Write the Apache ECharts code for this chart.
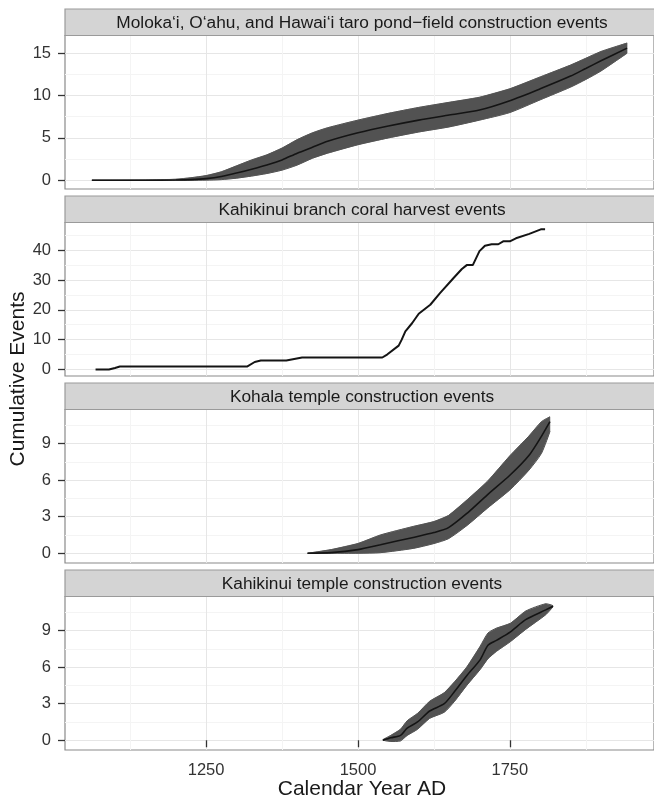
<!DOCTYPE html>
<html><head><meta charset="utf-8">
<script src="https://cdn.jsdelivr.net/npm/echarts@6/dist/echarts.min.js"></script>
<style>html,body{margin:0;padding:0;background:#fff}#c{width:654px;height:801px}</style>
</head><body><div id="c"></div>
<script>
// ---- data ----
const panelTitles = [
  'Moloka\u2018i, O\u2018ahu, and Hawai\u2018i taro pond\u2212field construction events',
  'Kahikinui branch coral harvest events',
  'Kohala temple construction events',
  'Kahikinui temple construction events'
];
const taroYears = [1062,1100,1150,1200,1225,1250,1275,1300,1325,1350,1375,1400,1425,1450,1500,1550,1600,1650,1700,1750,1800,1850,1875,1900,1943];
const taroMean  = [0,0,0,0.03,0.08,0.2,0.45,0.85,1.3,1.8,2.4,3.2,3.9,4.6,5.6,6.4,7.1,7.7,8.3,9.4,10.8,12.3,13.2,14.1,15.6];
const taroLower = [0,0,0,0,0,0.02,0.08,0.25,0.5,0.8,1.2,1.8,2.6,3.2,4.2,5.0,5.7,6.3,7.1,8.0,9.5,11.0,11.9,12.9,15.0];
const taroUpper = [0,0,0.02,0.12,0.3,0.55,1.0,1.7,2.4,3.0,3.8,4.8,5.6,6.2,7.1,7.9,8.6,9.2,9.8,10.8,12.2,13.6,14.4,15.2,16.2];

const coralYears = [1068,1090,1100,1108,1318,1330,1340,1382,1395,1408,1540,1548,1567,1572,1578,1589,1600,1619,1635,1657,1671,1679,1689,1700,1709,1720,1731,1739,1750,1760,1782,1801,1808];
const coralCount = [0,0,0.5,1,1,2.5,3,3,3.5,4,4,5,8,10,12.8,15.5,18.7,21.7,25.6,30.6,33.7,35,35,39.7,41.5,42,42,43,43,44,45.5,47,47];

const kohalaYears = [1417,1456,1500,1537,1591,1625,1649,1680,1713,1750,1781,1802,1816];
const kohalaMean  = [0,0.05,0.3,0.7,1.3,1.7,2.1,3.3,4.8,6.4,8.0,9.6,10.8];
const kohalaLower = [0,0,0,0.05,0.4,0.8,1.2,2.3,3.7,5.2,6.8,8.2,10.0];
const kohalaUpper = [0,0.3,0.8,1.5,2.2,2.6,3.1,4.4,5.9,8.0,9.6,10.8,11.2];

const kahiYears = [1541,1554,1570,1581,1598,1618,1642,1659,1679,1701,1714,1728,1751,1776,1809,1821];
const kahiMean  = [0,0.2,0.4,1.0,1.5,2.4,3.0,4.0,5.3,6.6,7.8,8.2,8.9,9.9,10.7,11.0];
const kahiLower = [0,-0.1,-0.05,0.4,0.9,1.8,2.3,3.2,4.5,5.8,6.7,7.3,8.1,9.1,10.3,10.95];
const kahiUpper = [0.05,0.4,0.9,1.6,2.2,3.2,3.9,4.8,6.0,7.7,8.8,9.2,9.6,10.6,11.2,11.05];

const xTicks = [1250,1500,1750];
const xMinor = [1125,1375,1625,1875];
const yTicks = [[0,5,10,15],[0,10,20,30,40],[0,3,6,9],[0,3,6,9]];
const yMinor = [[2.5,7.5,12.5],[5,15,25,35,45],[1.5,4.5,7.5,10.5],[1.5,4.5,7.5,10.5]];
const xTitle = 'Calendar Year AD';
const yTitle = 'Cumulative Events';

// ---- layout ----
const X_MIN = 1017.7, X_MAX = 1987.3;
const yRange = [[-1.03,17.09],[-2.2,49.3],[-0.8,11.8],[-0.8,11.8]];
const LEFT = 65, WIDTH = 594, TOP0 = 35.5, STEP = 187, H = 153.5, STRIP = 26.5;
const FONT = '"Liberation Sans", Arial, Helvetica, sans-serif';
const SMOOTH = 0.25;

const grids = [], xAxes = [], yAxes = [], series = [], graphics = [];
for (let i = 0; i < 4; i++) {
  const top = TOP0 + STEP * i;
  grids.push({left: LEFT, top: top, width: WIDTH, height: H, show: true,
    backgroundColor: '#fff', borderColor: '#8a8a8a', borderWidth: 1.2});
  const last = i === 3;
  xAxes.push({type: 'value', gridIndex: i, position: 'bottom', min: X_MIN, max: X_MAX,
    axisLine: {show: false},
    axisTick: {show: last, customValues: xTicks, length: 7, lineStyle: {color: '#333', width: 1.3}},
    axisLabel: {show: last, customValues: xTicks, margin: 12, color: '#333', fontSize: 16.5, fontFamily: FONT,
      formatter: v => String(v)},
    splitLine: {show: true, lineStyle: {color: '#e6e6e6', width: 1}}});
  xAxes.push({type: 'value', gridIndex: i, position: 'top', min: X_MIN, max: X_MAX,
    axisLine: {show: false}, axisLabel: {show: false},
    axisTick: {show: false, customValues: xMinor},
    splitLine: {show: true, lineStyle: {color: '#f4f4f4', width: 1}}});
  yAxes.push({type: 'value', gridIndex: i, position: 'left', min: yRange[i][0], max: yRange[i][1],
    axisLine: {show: false},
    axisTick: {show: true, customValues: yTicks[i], length: 7, lineStyle: {color: '#333', width: 1.3}},
    axisLabel: {show: true, customValues: yTicks[i], margin: 14, color: '#333', fontSize: 16.5, fontFamily: FONT},
    splitLine: {show: true, lineStyle: {color: '#e6e6e6', width: 1}}});
  yAxes.push({type: 'value', gridIndex: i, position: 'right', min: yRange[i][0], max: yRange[i][1],
    axisLine: {show: false}, axisLabel: {show: false},
    axisTick: {show: false, customValues: yMinor[i]},
    splitLine: {show: true, lineStyle: {color: '#f4f4f4', width: 1}}});
  // strip
  graphics.push({type: 'rect', z: 10, shape: {x: LEFT, y: top - STRIP, width: WIDTH, height: STRIP},
    style: {fill: '#d4d4d4', stroke: '#9a9a9a', lineWidth: 1.2}});
  graphics.push({type: 'text', z: 11, x: LEFT + WIDTH / 2, y: top - STRIP / 2 + 0.5,
    style: {text: panelTitles[i], fill: '#1a1a1a', font: '17.3px ' + FONT, textAlign: 'center', textVerticalAlign: 'middle'}});
}

function ribbon(idx, xs, lo, hi) {
  series.push({type: 'custom', xAxisIndex: idx * 2, yAxisIndex: idx * 2, silent: true, clip: true,
    data: xs.map((x, k) => [x, lo[k], hi[k]]),
    encode: {x: 0, y: [1, 2]},
    renderItem: function (params, api) {
      if (params.dataIndex !== 0) return;
      const up = [], dn = [];
      for (let k = 0; k < xs.length; k++) up.push(api.coord([xs[k], hi[k]]));
      for (let k = xs.length - 1; k >= 0; k--) dn.push(api.coord([xs[k], lo[k]]));
      return {type: 'group', children: [
        {type: 'polygon', shape: {points: up.concat(dn)}, style: {fill: '#525252', stroke: '#525252', lineWidth: 0.5}},
        {type: 'polyline', shape: {points: up, smooth: SMOOTH}, style: {fill: null, stroke: '#525252', lineWidth: 1}},
        {type: 'polyline', shape: {points: dn, smooth: SMOOTH}, style: {fill: null, stroke: '#525252', lineWidth: 1}}
      ]};
    }, z: 2});
}
function meanLine(idx, xs, ys, w, smooth) {
  series.push({type: 'line', xAxisIndex: idx * 2, yAxisIndex: idx * 2, data: xs.map((x, k) => [x, ys[k]]),
    symbol: 'none', silent: true, smooth: smooth, lineStyle: {color: '#141414', width: w}, z: 5});
}
ribbon(0, taroYears, taroLower, taroUpper);
meanLine(0, taroYears, taroMean, 1.6, SMOOTH);
meanLine(1, coralYears, coralCount, 2, false);
ribbon(2, kohalaYears, kohalaLower, kohalaUpper);
meanLine(2, kohalaYears, kohalaMean, 1.6, SMOOTH);
ribbon(3, kahiYears, kahiLower, kahiUpper);
meanLine(3, kahiYears, kahiMean, 1.6, SMOOTH);

graphics.push({type: 'text', x: LEFT + WIDTH / 2, y: 789,
  style: {text: xTitle, fill: '#1a1a1a', font: '21px ' + FONT, textAlign: 'center', textVerticalAlign: 'middle'}});
graphics.push({type: 'text', x: 18, y: 379, rotation: Math.PI / 2,
  style: {text: yTitle, fill: '#1a1a1a', font: '21px ' + FONT, textAlign: 'center', textVerticalAlign: 'middle'}});

const chart = echarts.init(document.getElementById('c'), null, {renderer: 'canvas'});
chart.setOption({animation: false, backgroundColor: '#fff', grid: grids, xAxis: xAxes, yAxis: yAxes,
  series: series, graphic: graphics});
</script></body></html>
